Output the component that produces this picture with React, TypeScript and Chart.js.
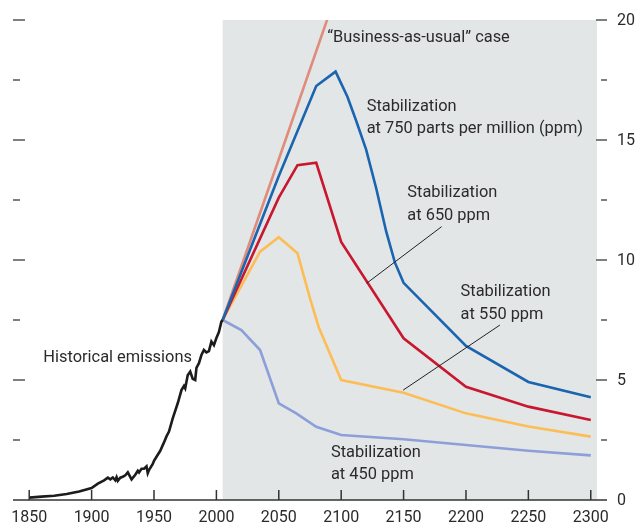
import React, { useEffect, useRef } from "react";
import { Chart, registerables } from "chart.js";

Chart.register(...registerables);

// ---------- data ----------
const histYears = [1850, 1860, 1870, 1880, 1890, 1900, 1905, 1910, 1913, 1915, 1917, 1919, 1920, 1921, 1923, 1925, 1927, 1929, 1932, 1935, 1937, 1938, 1940, 1942, 1944, 1945, 1946, 1949, 1950, 1952, 1955, 1958, 1960, 1962, 1965, 1969, 1972, 1974, 1975, 1977, 1979, 1981, 1983, 1984, 1986, 1988, 1990, 1992, 1994, 1996, 1998, 2000, 2002, 2004, 2005];
const histValues = [0.1, 0.14, 0.18, 0.25, 0.35, 0.5, 0.68, 0.82, 0.93, 0.86, 0.94, 0.82, 0.95, 0.8, 0.93, 0.97, 1.03, 1.15, 0.86, 1.05, 1.22, 1.15, 1.3, 1.3, 1.4, 1.12, 1.25, 1.5, 1.63, 1.8, 2.05, 2.4, 2.65, 2.85, 3.4, 4.03, 4.58, 4.75, 4.65, 5.2, 5.35, 5.05, 5.0, 5.5, 5.7, 6.04, 6.25, 6.15, 6.2, 6.6, 6.45, 6.75, 7.0, 7.43, 7.5];

const bauYears = [2005, 2050, 2100];
const bauValues = [7.5, 14.2, 21.7];

const s750Years = [2005, 2050, 2080, 2095.5, 2105, 2112, 2120, 2128, 2136, 2143, 2150, 2200, 2250, 2300];
const s750Values = [7.5, 13.5, 17.25, 17.85, 16.8, 15.8, 14.6, 13.0, 11.2, 9.9, 9.05, 6.42, 4.92, 4.28];

const s650Years = [2005, 2050, 2065, 2080, 2100, 2150, 2200, 2250, 2300];
const s650Values = [7.5, 12.6, 13.95, 14.05, 10.75, 6.74, 4.72, 3.89, 3.33];

const s550Years = [2005, 2035, 2050, 2065, 2075, 2082, 2100, 2150, 2200, 2250, 2300];
const s550Values = [7.5, 10.35, 10.95, 10.28, 8.4, 7.2, 5.0, 4.47, 3.61, 3.06, 2.64];

const s450Years = [2005, 2020, 2035, 2050, 2064, 2080, 2100, 2150, 2200, 2250, 2300];
const s450Values = [7.5, 7.08, 6.25, 4.03, 3.61, 3.05, 2.71, 2.53, 2.29, 2.05, 1.86];

const xTickLabels = ["1850", "1900", "1950", "2000", "2050", "2100", "2150", "2200", "2250", "2300"];
const yTickValues = [0, 2.5, 5, 7.5, 10, 12.5, 15, 17.5, 20];
const yTickLabels = ["0", "", "5", "", "10", "", "15", "", "20"];

const projectionStart = 2005;

// annotations in data units (year, value)
const textLabels = [
  { lines: ["\u201CBusiness-as-usual\u201D case"], x: 2088.8, y: 19.1 },
  { lines: ["Stabilization", "at 750 parts per million (ppm)"], x: 2120.4, y: 16.22 },
  { lines: ["Stabilization", "at 650 ppm"], x: 2153.0, y: 12.61 },
  { lines: ["Stabilization", "at 550 ppm"], x: 2195.7, y: 8.5 },
  { lines: ["Stabilization", "at 450 ppm"], x: 2091.8, y: 1.8 },
  { lines: ["Historical emissions"], x: 1861.3, y: 5.76 },
];
const leaderLines = [
  { x1: 2180.5, y1: 11.39, x2: 2120.4, y2: 9.03 },
  { x1: 2227.2, y1: 7.29, x2: 2149.7, y2: 4.58 },
];

const toPts = (xs: number[], ys: number[]) => xs.map((x, i) => ({ x, y: ys[i] }));

const FONT = "16.4px Roboto";
const TICKFONT = "16px Roboto";
const TEXT = "#2b2b2b";

const decor = {
  id: "decor",
  beforeDatasetsDraw(chart: any) {
    const { ctx, chartArea, scales } = chart;
    const x0 = scales.x.getPixelForValue(projectionStart);
    ctx.save();
    ctx.fillStyle = "#e3e6e7";
    ctx.fillRect(x0, chartArea.top, chartArea.right - x0, chartArea.bottom - chartArea.top);
    ctx.restore();
  },
  afterDatasetsDraw(chart: any) {
    const { ctx, chartArea, scales } = chart;
    const xs = scales.x;
    const ys = scales.y;
    ctx.save();
    // x axis line
    ctx.strokeStyle = "#333";
    ctx.lineWidth = 1.5;
    ctx.beginPath();
    ctx.moveTo(chartArea.left, ys.getPixelForValue(0));
    ctx.lineTo(chartArea.right + 10, ys.getPixelForValue(0));
    ctx.stroke();
    // x ticks + labels
    ctx.font = TICKFONT;
    ctx.fillStyle = TEXT;
    ctx.textAlign = "center";
    ctx.textBaseline = "middle";
    const yb = ys.getPixelForValue(0);
    xTickLabels.forEach((lab) => {
      const px = xs.getPixelForValue(Number(lab));
      ctx.beginPath();
      ctx.moveTo(px, yb);
      ctx.lineTo(px, yb - 10);
      ctx.stroke();
      ctx.fillText(lab, px, yb + 18);
    });
    // y ticks left and right
    ctx.strokeStyle = "#555";
    ctx.textAlign = "left";
    yTickValues.forEach((v, i) => {
      const py = ys.getPixelForValue(v);
      const major = yTickLabels[i] !== "";
      if (v > 0) {
        ctx.beginPath();
        ctx.moveTo(chartArea.left, py);
        ctx.lineTo(chartArea.left + (major ? 12 : 7), py);
        ctx.stroke();
        ctx.beginPath();
        ctx.moveTo(chartArea.right + (major ? -1 : 4), py);
        ctx.lineTo(chartArea.right + 10, py);
        ctx.stroke();
      }
      if (major) ctx.fillText(yTickLabels[i], chartArea.right + 20, py + 1);
    });
    // leader lines
    ctx.strokeStyle = "#222";
    ctx.lineWidth = 1;
    leaderLines.forEach((l) => {
      ctx.beginPath();
      ctx.moveTo(xs.getPixelForValue(l.x1), ys.getPixelForValue(l.y1));
      ctx.lineTo(xs.getPixelForValue(l.x2), ys.getPixelForValue(l.y2));
      ctx.stroke();
    });
    // text labels
    ctx.font = FONT;
    ctx.textBaseline = "alphabetic";
    ctx.textAlign = "left";
    ctx.fillStyle = TEXT;
    textLabels.forEach((t) => {
      const px = xs.getPixelForValue(t.x);
      const py = ys.getPixelForValue(t.y);
      t.lines.forEach((line, i) => ctx.fillText(line, px, py + i * 22.6));
    });
    ctx.restore();
  },
};

export default function App() {
  const ref = useRef<HTMLCanvasElement | null>(null);
  useEffect(() => {
    if (!ref.current) return;
    const mk = (data: any, color: string) => ({
      data,
      borderColor: color,
      borderWidth: 2.6,
      pointRadius: 0,
      tension: 0,
      fill: false,
    });
    const chart = new Chart(ref.current, {
      type: "line",
      data: {
        datasets: [
          mk(toPts(histYears, histValues), "#1c1c1c"),
          mk(toPts(s750Years, s750Values), "#1a64b0"),
          mk(toPts(s650Years, s650Values), "#c8172f"),
          mk(toPts(s550Years, s550Values), "#fdbd55"),
          mk(toPts(s450Years, s450Values), "#8d9fd8"),
          mk(toPts(bauYears, bauValues), "#e08c7b"),
        ],
      },
      options: {
        responsive: false,
        animation: false,
        devicePixelRatio: 1,
        layout: { padding: { left: 13, right: 39, top: 20, bottom: 25 } },
        plugins: { legend: { display: false }, tooltip: { enabled: false } },
        scales: {
          x: { type: "linear", min: 1837, max: 2305, display: false },
          y: { type: "linear", min: 0, max: 20, display: false },
        },
      },
      plugins: [decor],
    });
    return () => chart.destroy();
  }, []);
  return (
    <div style={{ position: "fixed", left: 0, top: 0, width: 636, height: 525, background: "#fff" }}>
      <canvas ref={ref} width={636} height={525} />
    </div>
  );
}
